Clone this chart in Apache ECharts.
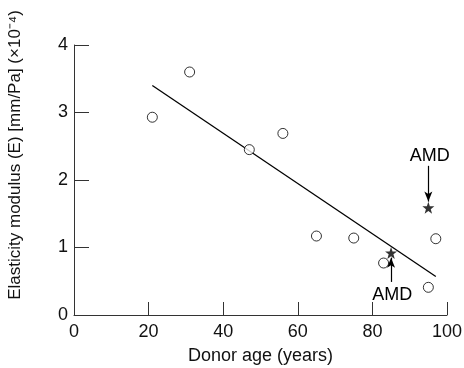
<!DOCTYPE html>
<html><head><meta charset="utf-8">
<script src="https://cdn.jsdelivr.net/npm/echarts@6/dist/echarts.min.js"></script>
<style>html,body{margin:0;padding:0;background:#fff}#c{width:464px;height:368px}</style>
</head><body><div id="c"></div>
<script>
const circleAge = [21, 31, 47, 56, 65, 75, 83, 95, 97];
const circleE   = [2.93, 3.60, 2.45, 2.69, 1.17, 1.14, 0.77, 0.41, 1.13];
const amdAge = [85, 95];
const amdE   = [0.92, 1.59];
const fitAge = [21, 97];
const fitE   = [3.40, 0.57];
const xTicks = [0, 20, 40, 60, 80, 100];
const yTicks = [0, 1, 2, 3, 4];
const amdLabel = 'AMD';

const FONT = 'Liberation Sans';
const axisCol = '#333';
const chart = echarts.init(document.getElementById('c'));
const star = 'path://M0,-10 L2.35,-3.24 L9.51,-3.09 L3.80,1.24 L5.88,8.09 L0,4 L-5.88,8.09 L-3.80,1.24 L-9.51,-3.09 L-2.35,-3.24 Z';
chart.setOption({
  animation: false,
  grid: {left: 74, right: 17, top: 45, bottom: 53, containLabel: false, outerBoundsMode: 'none'},
  xAxis: {
    type: 'value', min: xTicks[0], max: xTicks[xTicks.length-1], interval: 20,
    name: 'Donor age (years)', nameLocation: 'middle', nameGap: 32,
    nameTextStyle: {fontFamily: FONT, fontSize: 18, color: '#111'},
    axisLine: {lineStyle: {color: axisCol, width: 1}},
    axisTick: {inside: true, length: 13, lineStyle: {color: axisCol}},
    axisLabel: {fontFamily: FONT, fontSize: 18, color: '#111', margin: 8},
    splitLine: {show: false}
  },
  yAxis: {
    type: 'value', min: yTicks[0], max: yTicks[yTicks.length-1], interval: 1,
    name: 'Elasticity modulus (E) [mm/Pa] (×10⁻⁴)', nameLocation: 'middle', nameGap: 50,
    nameTextStyle: {fontFamily: FONT, fontSize: 17, color: '#111', padding: [0, 0, 0, 50]},
    axisLine: {lineStyle: {color: axisCol, width: 1}},
    axisTick: {inside: true, length: 15, lineStyle: {color: axisCol}},
    axisLabel: {fontFamily: FONT, fontSize: 18, color: '#111', margin: 6},
    splitLine: {show: false}
  },
  series: [
    {
      type: 'line', data: fitAge.map((a, i) => [a, fitE[i]]), symbol: 'none',
      lineStyle: {color: '#000', width: 1.3}, silent: true, z: 2
    },
    {
      type: 'scatter', data: circleAge.map((a, i) => [a, circleE[i]]),
      symbol: 'circle', symbolSize: 10,
      itemStyle: {color: '#fff', borderColor: '#000', borderWidth: 1}, z: 3
    },
    {
      type: 'scatter', data: amdAge.map((a, i) => [a, amdE[i]]),
      symbol: star, symbolSize: 12,
      itemStyle: {color: '#000'}, z: 4,
      markLine: {
        silent: true, symbol: ['none', 'arrow'], symbolSize: [6, 10],
        lineStyle: {color: '#000', width: 1.2, type: 'solid'},
        label: {show: false},
        data: [
          [{coord: [amdAge[1], 2.21]}, {coord: [amdAge[1], 1.68]}],
          [{coord: [amdAge[0], 0.49]}, {coord: [amdAge[0], 0.85]}]
        ]
      },
      markPoint: {
        silent: true, symbol: 'rect', symbolSize: 0,
        label: {show: true, formatter: amdLabel, fontFamily: FONT, fontSize: 18, color: '#000'},
        data: [
          {coord: [amdAge[1] + 0.4, 2.36]},
          {coord: [amdAge[0] + 0.3, 0.30]}
        ]
      }
    }
  ]
});
</script></body></html>
